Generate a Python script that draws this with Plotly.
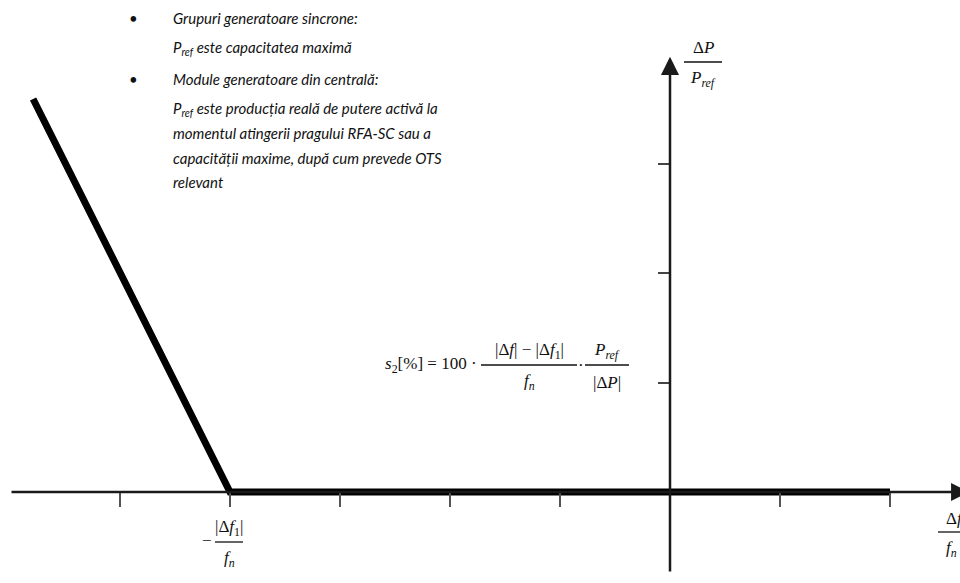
import plotly.graph_objects as go

W, H = 960, 583

# axis units: one tick step on each axis
x_ticks = [-5, -4, -3, -2, -1, 1, 2]
y_ticks = [1, 2, 3]

# droop characteristic (per-unit of tick steps)
curve_x = [-5.79, -4.0, 2.0]
curve_y = [3.595, 0.0, 0.0]

# axis extents
x_axis_from, x_axis_to = -6.0, 2.72
y_axis_from, y_axis_to = -0.74, 3.98

x_range = [-670 / 110, 290 / 110]
y_range = [-91 / 109.33, 492 / 109.33]

bullet_lines = [
    ("•", "Grupuri generatoare sincrone:"),
    ("", "P<sub>ref</sub> este capacitatea maximă"),
    ("•", "Module generatoare din centrală:"),
    ("", "P<sub>ref</sub> este producția reală de putere activă la"),
    ("", "momentul atingerii pragului RFA-SC sau a"),
    ("", "capacității maxime, după cum prevede OTS"),
    ("", "relevant"),
]
line_y = [18, 48, 79, 109, 133, 158, 182]


def px(x):
    return x / W


def py(y):
    return 1 - y / H


fig = go.Figure()

fig.add_trace(go.Scatter(
    x=curve_x, y=curve_y, mode="lines",
    line=dict(color="black", width=7),
    hoverinfo="skip", showlegend=False,
))

annotations = []
shapes = []

# axes drawn as arrows
annotations.append(dict(
    x=x_axis_to, y=0, ax=x_axis_from, ay=0, xref="x", yref="y", axref="x", ayref="y",
    showarrow=True, arrowhead=2, arrowsize=1.45, arrowwidth=2.5, arrowcolor="#1a1a1a",
    standoff=0, text="",
))
annotations.append(dict(
    x=0, y=y_axis_to, ax=0, ay=y_axis_from, xref="x", yref="y", axref="x", ayref="y",
    showarrow=True, arrowhead=2, arrowsize=1.45, arrowwidth=2.5, arrowcolor="#1a1a1a",
    standoff=0, text="",
))

# text block
txt_font = dict(family="Lato", size=15, color="#111", style="italic")
for (b, t), yy in zip(bullet_lines, line_y):
    if b:
        annotations.append(dict(x=px(133), y=py(yy), xref="paper", yref="paper",
                                text=b, showarrow=False, xanchor="center", yanchor="middle",
                                font=dict(family="Lato", size=15, color="#111")))
    annotations.append(dict(x=px(171), y=py(yy), xref="paper", yref="paper",
                            text=t, showarrow=False, xanchor="left", yanchor="middle",
                            font=txt_font))

math = dict(family="Liberation Serif", size=17, color="#111")


def frac(cx, cy, num, den, half, gap=14, anchor="center", tx=None):
    tx = cx if tx is None else tx
    annotations.append(dict(x=px(tx), y=py(cy - gap), xref="paper", yref="paper",
                            text=num, showarrow=False, xanchor=anchor, yanchor="middle", font=math))
    annotations.append(dict(x=px(tx), y=py(cy + gap + 3), xref="paper", yref="paper",
                            text=den, showarrow=False, xanchor=anchor, yanchor="middle", font=math))
    shapes.append(dict(type="line", xref="paper", yref="paper",
                       x0=px(cx - half), x1=px(cx + half), y0=py(cy), y1=py(cy),
                       line=dict(color="#111", width=1.3)))


fn = "<i>f</i><sub><i>n</i></sub>"
pref = "<i>P</i><sub><i>ref</i></sub>"

# y axis label
frac(703, 62, "Δ<i>P</i>", pref, 19)
# x axis label (cut at the edge)
frac(952, 532, "Δ<i>f</i>", fn, 14, anchor="left", tx=944)
# kink label
annotations.append(dict(x=px(207), y=py(540), xref="paper", yref="paper", text="−",
                        showarrow=False, xanchor="center", yanchor="middle", font=math))
frac(229, 542, "|Δ<i>f</i><sub>1</sub>|", fn, 14)

# formula
annotations.append(dict(x=px(479), y=py(365), xref="paper", yref="paper",
                        text="<i>s</i><sub>2</sub>[%] = 100 ·", showarrow=False,
                        xanchor="right", yanchor="middle", font=math))
frac(529, 365, "|Δ<i>f</i>| − |Δ<i>f</i><sub>1</sub>|", fn, 48)
annotations.append(dict(x=px(581), y=py(365), xref="paper", yref="paper", text="·",
                        showarrow=False, xanchor="center", yanchor="middle", font=math))
frac(607, 365, pref, "|Δ<i>P</i>|", 22)

fig.update_layout(
    width=W, height=H,
    margin=dict(l=0, r=0, t=0, b=0),
    plot_bgcolor="white", paper_bgcolor="white",
    xaxis=dict(range=x_range, showgrid=False, zeroline=False, showline=False,
               showticklabels=False, ticks="outside", tickvals=x_ticks, ticklen=14,
               tickwidth=1.5, tickcolor="#555", anchor="free", position=91 / H, side="bottom"),
    yaxis=dict(range=y_range, showgrid=False, zeroline=False, showline=False,
               showticklabels=False, ticks="outside", tickvals=y_ticks, ticklen=12,
               tickwidth=1.5, tickcolor="#444", anchor="free", position=670 / W, side="left"),
    annotations=annotations,
    shapes=shapes,
    showlegend=False,
)

# page body has a default 8px margin; drop it so the figure sits at the top-left corner
fig.write_html("out.html", config={"displayModeBar": False},
               post_script="document.body.style.margin='0';")
